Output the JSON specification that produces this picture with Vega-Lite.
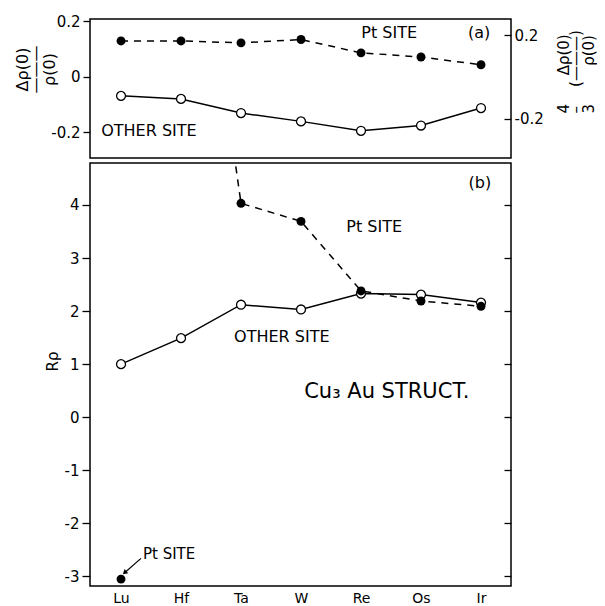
{
  "$schema": "https://vega.github.io/schema/vega-lite/v6.json",
  "background": "white",
  "padding": {"left": 13, "top": 13, "right": 0, "bottom": 0},
  "bounds": "flush",
  "spacing": 5,
  "config": {
    "font": "DejaVu Sans",
    "view": {"stroke": "black", "strokeWidth": 1.5},
    "axis": {"grid": false, "domain": false, "labelFont": "DejaVu Sans", "labelFontSize": 15, "labelColor": "black", "tickColor": "black", "tickWidth": 1.3, "titleFont": "DejaVu Sans", "titleFontWeight": "normal", "titleColor": "black", "titleFontSize": 15}
  },
  "datasets": {
    "a": [
      {"i": 0, "el": "Lu", "site": "Pt", "v": 0.130},
      {"i": 1, "el": "Hf", "site": "Pt", "v": 0.130},
      {"i": 2, "el": "Ta", "site": "Pt", "v": 0.123},
      {"i": 3, "el": "W", "site": "Pt", "v": 0.135},
      {"i": 4, "el": "Re", "site": "Pt", "v": 0.087},
      {"i": 5, "el": "Os", "site": "Pt", "v": 0.072},
      {"i": 6, "el": "Ir", "site": "Pt", "v": 0.044},
      {"i": 0, "el": "Lu", "site": "Other", "v": -0.068},
      {"i": 1, "el": "Hf", "site": "Other", "v": -0.079},
      {"i": 2, "el": "Ta", "site": "Other", "v": -0.130},
      {"i": 3, "el": "W", "site": "Other", "v": -0.160},
      {"i": 4, "el": "Re", "site": "Other", "v": -0.194},
      {"i": 5, "el": "Os", "site": "Other", "v": -0.175},
      {"i": 6, "el": "Ir", "site": "Other", "v": -0.112}
    ],
    "b": [
      {"i": 0, "el": "Lu", "site": "Pt", "v": -3.05, "line": false},
      {"i": 1, "el": "Hf", "site": "Pt", "v": 12.0, "line": true},
      {"i": 2, "el": "Ta", "site": "Pt", "v": 4.03, "line": true},
      {"i": 3, "el": "W", "site": "Pt", "v": 3.69, "line": true},
      {"i": 4, "el": "Re", "site": "Pt", "v": 2.38, "line": true},
      {"i": 5, "el": "Os", "site": "Pt", "v": 2.19, "line": true},
      {"i": 6, "el": "Ir", "site": "Pt", "v": 2.09, "line": true},
      {"i": 0, "el": "Lu", "site": "Other", "v": 1.0, "line": true},
      {"i": 1, "el": "Hf", "site": "Other", "v": 1.49, "line": true},
      {"i": 2, "el": "Ta", "site": "Other", "v": 2.12, "line": true},
      {"i": 3, "el": "W", "site": "Other", "v": 2.03, "line": true},
      {"i": 4, "el": "Re", "site": "Other", "v": 2.33, "line": true},
      {"i": 5, "el": "Os", "site": "Other", "v": 2.31, "line": true},
      {"i": 6, "el": "Ir", "site": "Other", "v": 2.16, "line": true}
    ],
    "ta": [
      {"i": 4.47, "v": 0.16, "t": "Pt SITE"},
      {"i": 5.97, "v": 0.16, "t": "(a)"}
    ],
    "tal": [
      {"i": -0.33, "v": -0.194, "t": "OTHER SITE"}
    ],
    "tb": [
      {"i": 5.98, "v": 4.42, "t": "(b)"},
      {"i": 4.22, "v": 3.58, "t": "Pt SITE"},
      {"i": 2.68, "v": 1.51, "t": "OTHER SITE"}
    ],
    "tbl": [
      {"i": 0.366, "v": -2.57, "t": "Pt SITE"}
    ],
    "tbig": [
      {"i": 4.43, "v": 0.47, "t": "Cu₃ Au STRUCT."}
    ],
    "arrow": [
      {"i": 0.333, "v": -2.66, "i2": 0.06, "v2": -2.93}
    ]
  },
  "vconcat": [
    {
      "width": 421,
      "height": 139,
      "resolve": {"scale": {"y": "independent"}},
      "layer": [
        {
          "layer": [
            {
              "mark": {"type": "rule", "color": "black", "strokeWidth": 1.5},
              "encoding": {
                "y": {"datum": 0, "type": "quantitative",
                  "scale": {"domain": [-0.292, 0.209], "nice": false, "zero": false},
                  "axis": {"orient": "left", "values": [-0.2, 0, 0.2], "format": ".1~f", "labelExpr": "replace(datum.label, '−', '-')", "tickSize": 7, "labelPadding": 3,
                    "title": ["Δρ(0)", "———", "ρ(0)"], "titleFontSize": 16, "titleLineHeight": 13.5, "titleAngle": 270, "titleAlign": "center", "titleBaseline": "middle", "titleX": -68, "titleY": 50}}
              }
            },
            {
              "data": {"name": "a"},
              "transform": [{"filter": "datum.site == 'Pt'"}],
              "mark": {"type": "line", "color": "black", "strokeWidth": 1.5, "strokeDash": [7, 6]},
              "encoding": {
                "x": {"field": "i", "type": "quantitative", "scale": {"domain": [-0.517, 6.5], "nice": false, "zero": false}, "axis": null},
                "y": {"field": "v", "type": "quantitative", "scale": {"domain": [-0.292, 0.209], "nice": false, "zero": false}}
              }
            },
            {
              "data": {"name": "a"},
              "transform": [{"filter": "datum.site == 'Other'"}],
              "mark": {"type": "line", "color": "black", "strokeWidth": 1.5},
              "encoding": {
                "x": {"field": "i", "type": "quantitative", "scale": {"domain": [-0.517, 6.5], "nice": false, "zero": false}, "axis": null},
                "y": {"field": "v", "type": "quantitative", "scale": {"domain": [-0.292, 0.209], "nice": false, "zero": false}}
              }
            },
            {
              "data": {"name": "a"},
              "transform": [{"filter": "datum.site == 'Pt'"}],
              "mark": {"type": "point", "shape": "circle", "filled": true, "color": "black", "size": 80, "opacity": 1},
              "encoding": {
                "x": {"field": "i", "type": "quantitative", "scale": {"domain": [-0.517, 6.5], "nice": false, "zero": false}, "axis": null},
                "y": {"field": "v", "type": "quantitative", "scale": {"domain": [-0.292, 0.209], "nice": false, "zero": false}}
              }
            },
            {
              "data": {"name": "a"},
              "transform": [{"filter": "datum.site == 'Other'"}],
              "mark": {"type": "point", "shape": "circle", "filled": true, "fill": "white", "stroke": "black", "strokeWidth": 1.3, "size": 80, "opacity": 1},
              "encoding": {
                "x": {"field": "i", "type": "quantitative", "scale": {"domain": [-0.517, 6.5], "nice": false, "zero": false}, "axis": null},
                "y": {"field": "v", "type": "quantitative", "scale": {"domain": [-0.292, 0.209], "nice": false, "zero": false}}
              }
            },
            {
              "data": {"name": "ta"},
              "mark": {"type": "text", "align": "center", "baseline": "middle", "fontSize": 16, "color": "black"},
              "encoding": {
                "x": {"field": "i", "type": "quantitative", "scale": {"domain": [-0.517, 6.5], "nice": false, "zero": false}, "axis": null},
                "y": {"field": "v", "type": "quantitative", "scale": {"domain": [-0.292, 0.209], "nice": false, "zero": false}},
                "text": {"field": "t"}
              }
            },
            {
              "data": {"name": "tal"},
              "mark": {"type": "text", "align": "left", "baseline": "middle", "fontSize": 16, "color": "black"},
              "encoding": {
                "x": {"field": "i", "type": "quantitative", "scale": {"domain": [-0.517, 6.5], "nice": false, "zero": false}, "axis": null},
                "y": {"field": "v", "type": "quantitative", "scale": {"domain": [-0.292, 0.209], "nice": false, "zero": false}},
                "text": {"field": "t"}
              }
            }
          ]
        },
        {
          "mark": {"type": "rule", "opacity": 0},
          "encoding": {
            "y": {"datum": 0, "type": "quantitative",
              "scale": {"domain": [-0.3893, 0.2787], "nice": false, "zero": false},
              "axis": {"orient": "right", "values": [-0.2, 0.2], "format": ".1~f", "labelExpr": "replace(datum.label, '−', '-')", "tickSize": -7, "labelPadding": 10,
                "title": ["4\u00a0\u00a0\u00a0\u00a0\u00a0\u00a0Δρ(0)", "–\u00a0\u00a0\u00a0\u00a0(———)", "3\u00a0\u00a0\u00a0\u00a0\u00a0\u00a0\u00a0\u00a0ρ(0)"], "titleLineHeight": 12.5, "titleAngle": 270, "titleAlign": "left", "titleBaseline": "middle", "titleX": 52, "titleY": 94}}
          }
        }
      ]
    },
    {
      "width": 421,
      "height": 423,
      "resolve": {"axis": {"y": "independent"}},
      "layer": [
        {
          "layer": [
            {
              "mark": {"type": "rule", "color": "black", "strokeWidth": 1.5},
              "encoding": {
                "y": {"datum": 1, "type": "quantitative",
                  "scale": {"domain": [-3.18, 4.79], "nice": false, "zero": false},
                  "axis": {"orient": "left", "values": [-3, -2, -1, 0, 1, 2, 3, 4], "format": "d", "labelExpr": "replace(datum.label, '−', '-')", "tickSize": 8, "labelPadding": 3,
                    "title": "Rρ", "titleAngle": 270, "titleAlign": "center", "titleBaseline": "middle", "titleX": -38, "titleY": 198}}
              }
            },
            {
              "data": {"name": "b"},
              "transform": [{"filter": "datum.site == 'Pt' && datum.line"}],
              "mark": {"type": "line", "color": "black", "strokeWidth": 1.5, "strokeDash": [7, 6], "clip": true},
              "encoding": {
                "x": {"field": "i", "type": "quantitative", "scale": {"domain": [-0.517, 6.5], "nice": false, "zero": false},
                  "axis": {"orient": "bottom", "values": [0, 1, 2, 3, 4, 5, 6], "labelExpr": "['Lu','Hf','Ta','W','Re','Os','Ir'][datum.value]", "ticks": false, "labelPadding": 5, "labelFontSize": 14, "title": null}},
                "y": {"field": "v", "type": "quantitative", "scale": {"domain": [-3.18, 4.79], "nice": false, "zero": false}}
              }
            },
            {
              "data": {"name": "b"},
              "transform": [{"filter": "datum.site == 'Other'"}],
              "mark": {"type": "line", "color": "black", "strokeWidth": 1.5, "clip": true},
              "encoding": {
                "x": {"field": "i", "type": "quantitative", "scale": {"domain": [-0.517, 6.5], "nice": false, "zero": false}},
                "y": {"field": "v", "type": "quantitative", "scale": {"domain": [-3.18, 4.79], "nice": false, "zero": false}}
              }
            },
            {
              "data": {"name": "b"},
              "transform": [{"filter": "datum.site == 'Other'"}],
              "mark": {"type": "point", "shape": "circle", "filled": true, "fill": "white", "stroke": "black", "strokeWidth": 1.3, "size": 80, "opacity": 1, "clip": true},
              "encoding": {
                "x": {"field": "i", "type": "quantitative", "scale": {"domain": [-0.517, 6.5], "nice": false, "zero": false}},
                "y": {"field": "v", "type": "quantitative", "scale": {"domain": [-3.18, 4.79], "nice": false, "zero": false}}
              }
            },
            {
              "data": {"name": "b"},
              "transform": [{"filter": "datum.site == 'Pt'"}],
              "mark": {"type": "point", "shape": "circle", "filled": true, "color": "black", "size": 80, "opacity": 1, "clip": true},
              "encoding": {
                "x": {"field": "i", "type": "quantitative", "scale": {"domain": [-0.517, 6.5], "nice": false, "zero": false}},
                "y": {"field": "v", "type": "quantitative", "scale": {"domain": [-3.18, 4.79], "nice": false, "zero": false}}
              }
            },
            {
              "data": {"name": "tb"},
              "mark": {"type": "text", "align": "center", "baseline": "middle", "fontSize": 16, "color": "black"},
              "encoding": {
                "x": {"field": "i", "type": "quantitative", "scale": {"domain": [-0.517, 6.5], "nice": false, "zero": false}},
                "y": {"field": "v", "type": "quantitative", "scale": {"domain": [-3.18, 4.79], "nice": false, "zero": false}},
                "text": {"field": "t"}
              }
            },
            {
              "data": {"name": "tbl"},
              "mark": {"type": "text", "align": "left", "baseline": "middle", "fontSize": 15, "color": "black"},
              "encoding": {
                "x": {"field": "i", "type": "quantitative", "scale": {"domain": [-0.517, 6.5], "nice": false, "zero": false}},
                "y": {"field": "v", "type": "quantitative", "scale": {"domain": [-3.18, 4.79], "nice": false, "zero": false}},
                "text": {"field": "t"}
              }
            },
            {
              "data": {"name": "tbig"},
              "mark": {"type": "text", "align": "center", "baseline": "middle", "fontSize": 21, "color": "black"},
              "encoding": {
                "x": {"field": "i", "type": "quantitative", "scale": {"domain": [-0.517, 6.5], "nice": false, "zero": false}},
                "y": {"field": "v", "type": "quantitative", "scale": {"domain": [-3.18, 4.79], "nice": false, "zero": false}},
                "text": {"field": "t"}
              }
            },
            {
              "data": {"name": "arrow"},
              "mark": {"type": "rule", "color": "black", "strokeWidth": 1.2},
              "encoding": {
                "x": {"field": "i", "type": "quantitative", "scale": {"domain": [-0.517, 6.5], "nice": false, "zero": false}},
                "y": {"field": "v", "type": "quantitative", "scale": {"domain": [-3.18, 4.79], "nice": false, "zero": false}},
                "x2": {"field": "i2"},
                "y2": {"field": "v2"}
              }
            },
            {
              "data": {"name": "arrow"},
              "mark": {"type": "point", "shape": "triangle-up", "filled": true, "color": "black", "size": 30, "angle": 229, "opacity": 1},
              "encoding": {
                "x": {"field": "i2", "type": "quantitative", "scale": {"domain": [-0.517, 6.5], "nice": false, "zero": false}},
                "y": {"field": "v2", "type": "quantitative", "scale": {"domain": [-3.18, 4.79], "nice": false, "zero": false}}
              }
            }
          ]
        },
        {
          "mark": {"type": "rule", "opacity": 0},
          "encoding": {
            "y": {"datum": 1, "type": "quantitative",
              "axis": {"orient": "right", "values": [-3, -2, -1, 0, 1, 2, 3, 4], "labels": false, "tickSize": -7, "title": null}}
          }
        }
      ]
    }
  ]
}
